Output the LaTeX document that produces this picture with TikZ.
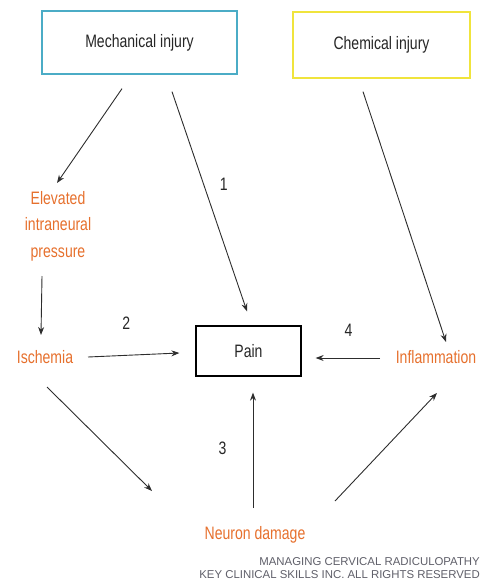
\documentclass[tikz,border=0pt]{standalone}
\usepackage{fontspec}
\setmainfont{Liberation Sans}[FakeStretch=0.78]
\newfontfamily\creditfont{Liberation Sans}
\usetikzlibrary{arrows.meta}

\definecolor{mechblue}{RGB}{75,172,198}
\definecolor{chemyellow}{RGB}{240,228,60}
\definecolor{causeorange}{RGB}{230,112,45}
\definecolor{creditgray}{RGB}{95,95,105}
\definecolor{linkgray}{RGB}{45,45,45}

\begin{document}
\begin{tikzpicture}[
    x = 1pt, y = -1pt,
    font = \fontsize{18}{26.5}\selectfont,
    text = black!85,
    > = {Stealth[length = 8pt, width = 6pt]},
    box/.style = {draw,
      line width = 1.3pt},
    cause/.style = {text = causeorange,
      inner sep = 0pt,
      align = center},
    link/.style = {->,
      draw = linkgray,
      line width = 0.9pt},
    tag/.style = {inner sep = 0pt}
    ]

    \useasboundingbox (0, 0) rectangle (480, 581);

    \node at (139.5, 42.5) [box, draw = mechblue, minimum width = 195pt, minimum height = 63pt, name = mech] {Mechanical injury};
    \node at (381.5, 45) [box, draw = chemyellow, minimum width = 177pt, minimum height = 66pt, name = chem] {Chemical injury};
    \node at (248.5, 351) [box, draw = black, minimum width = 105pt, minimum height = 50pt, name = pain] {Pain};

    \node at (58, 226) [cause, name = elevated] {Elevated\\intraneural\\pressure};
    \node at (45, 357) [cause, name = ischemia] {Ischemia};
    \node at (436, 357) [cause, name = inflam] {Inflammation};
    \node at (255, 535) [cause, name = neuron] {Neuron damage};

    \draw [link] ([shift = {(-17.5, 14)}]mech.south) to ([shift = {(-1, -43)}]elevated.center);
    \draw [link] ([shift = {(32.5, 17)}]mech.south) to
    node [tag, pos = 0.42, right = 16pt] {1} ([shift = {(-1.5, -14)}]pain.north);
    \draw [link] ([shift = {(-18.5, 13)}]chem.south) to ([shift = {(10, -15)}]inflam.center);

    \draw [link] ([shift = {(-16, 50)}]elevated.center) to ([shift = {(-4, -22)}]ischemia.center);
    \draw [link] ([shift = {(43, 0)}]ischemia.center) to
    node [tag, pos = 0.42, above = 25pt] {2} ([shift = {(-16, 2)}]pain.west);
    \draw [link] ([shift = {(-56, 1)}]inflam.center) to
    node [tag, pos = 0.49, above = 21pt] {4} ([shift = {(14, 7)}]pain.east);

    \draw [link] ([shift = {(2, 30)}]ischemia.center) to ([shift = {(-103, -44)}]neuron.center);
    \draw [link] ([shift = {(-2, -27)}]neuron.center) to
    node [tag, pos = 0.52, left = 26pt] {3} ([shift = {(4.5, 16)}]pain.south);
    \draw [link] ([shift = {(80, -34)}]neuron.center) to ([shift = {(1, 36)}]inflam.center);

    \node at (480, 579) [anchor = south east, align = right, inner sep = 0pt, text = creditgray,
      font = \creditfont\fontsize{11.4}{13}\selectfont, name = credit]
    {MANAGING CERVICAL RADICULOPATHY\\KEY CLINICAL SKILLS INC.\ ALL RIGHTS RESERVED};
  \end{tikzpicture}
\end{document}
